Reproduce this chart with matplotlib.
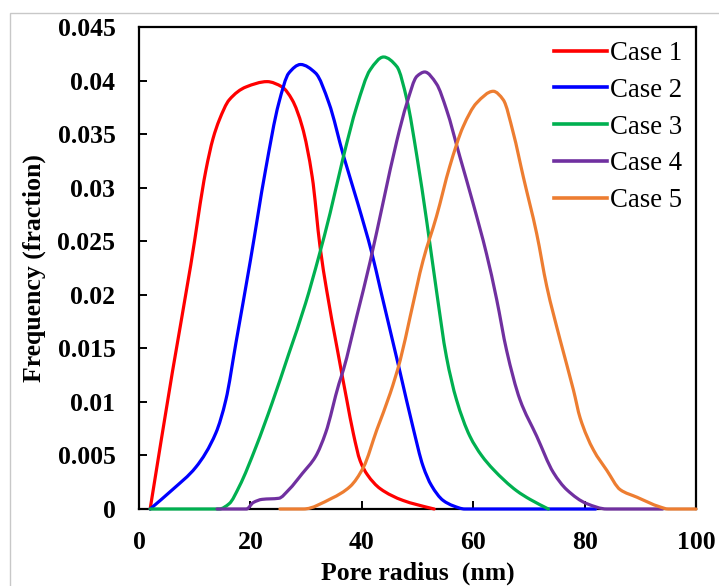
import matplotlib
matplotlib.use("Agg")
import matplotlib.pyplot as plt
import numpy as np
from matplotlib.patches import Rectangle, PathPatch
from matplotlib.path import Path
from matplotlib.lines import Line2D

# ---- data ----
case1_x = [2.0, 6.0, 9.3, 12.0, 13.3, 14.4, 16.2, 19.2, 23.0, 25.7, 27.5, 29.3, 31.1, 32.5, 33.7, 35.5, 37.3, 38.5, 39.7, 41.0, 43.3, 47.4, 52.2, 53.0]
case1_y = [0.0, 0.0128, 0.0228, 0.0316, 0.0346, 0.0363, 0.0382, 0.0394, 0.0399, 0.0394, 0.0382, 0.0357, 0.0310, 0.0245, 0.0204, 0.0152, 0.0102, 0.0070, 0.0045, 0.0032, 0.0019, 0.0008, 0.0001, 0.0]

case2_x = [2.0, 6.0, 10.2, 13.8, 15.6, 17.4, 20.0, 22.7, 25.1, 26.9, 29.0, 31.7, 34.1, 36.7, 39.3, 41.8, 43.3, 46.9, 49.2, 51.0, 52.5, 54.6, 56.4, 58.5, 82.0]
case2_y = [0.0, 0.0018, 0.0039, 0.0071, 0.0102, 0.0155, 0.0232, 0.0316, 0.0379, 0.0407, 0.0415, 0.0407, 0.0379, 0.0330, 0.0285, 0.0239, 0.0206, 0.0127, 0.0076, 0.0040, 0.0022, 0.0008, 0.0003, 0.0, 0.0]

case3_x = [2.0, 14.4, 16.2, 18.0, 21.0, 23.9, 26.9, 29.9, 32.3, 34.3, 36.7, 39.1, 41.5, 43.9, 46.3, 48.1, 49.9, 51.7, 53.4, 55.2, 57.0, 59.4, 61.5, 63.6, 67.8, 70.2, 73.5]
case3_y = [0.0, 0.0, 0.0005, 0.0021, 0.0058, 0.0099, 0.0145, 0.0192, 0.0236, 0.0276, 0.0329, 0.0376, 0.0410, 0.0422, 0.0413, 0.0382, 0.0329, 0.0267, 0.0204, 0.0142, 0.0102, 0.0068, 0.0050, 0.0037, 0.0017, 0.0009, 0.0]

case4_x = [14.0, 19.3, 20.5, 22.1, 25.1, 26.9, 29.3, 31.7, 33.5, 35.9, 36.7, 39.1, 41.5, 43.9, 46.3, 48.1, 49.9, 51.3, 53.4, 55.2, 57.6, 60.0, 62.4, 64.2, 66.0, 68.4, 71.4, 74.4, 76.8, 80.4, 84.0, 94.0]
case4_y = [0.0, 0.0, 0.0006, 0.0009, 0.0010, 0.0018, 0.0033, 0.0049, 0.0071, 0.0117, 0.0130, 0.0180, 0.0231, 0.0288, 0.0344, 0.0379, 0.0404, 0.0408, 0.0397, 0.0373, 0.0329, 0.0285, 0.0238, 0.0196, 0.0148, 0.0102, 0.0068, 0.0034, 0.0018, 0.0005, 0.0, 0.0]

case5_x = [25.3, 29.5, 34.6, 37.9, 40.3, 42.7, 45.1, 46.9, 48.7, 51.0, 53.4, 55.8, 58.2, 60.6, 63.6, 65.4, 67.2, 69.0, 71.4, 73.2, 75.6, 78.0, 79.2, 81.6, 84.0, 86.4, 89.4, 93.5, 95.0, 100.0]
case5_y = [0.0, 0.0, 0.0010, 0.0021, 0.0039, 0.0074, 0.0108, 0.0139, 0.0180, 0.0232, 0.0273, 0.0320, 0.0357, 0.0379, 0.0390, 0.0382, 0.0351, 0.0310, 0.0257, 0.0208, 0.0158, 0.0111, 0.0085, 0.0055, 0.0036, 0.0018, 0.0011, 0.0002, 0.0, 0.0]

labels = ["Case 1", "Case 2", "Case 3", "Case 4", "Case 5"]
colors = ["#FF0000", "#0000FF", "#00B050", "#7030A0", "#ED7D31"]
xticks = [0, 20, 40, 60, 80, 100]
xtick_labels = ["0", "20", "40", "60", "80", "100"]
yticks = [0, 0.005, 0.01, 0.015, 0.02, 0.025, 0.03, 0.035, 0.04, 0.045]
ytick_labels = ["0", "0.005", "0.01", "0.015", "0.02", "0.025", "0.03", "0.035", "0.04", "0.045"]


def smooth_path(xs, ys):
    """Smoothed (monotone cubic Bezier) path through the data points, like a 'smoothed line'."""
    x = np.asarray(xs, float)
    y = np.asarray(ys, float)
    n = len(x)
    h = np.diff(x)
    d = np.diff(y) / h
    m = np.zeros(n)
    for i in range(1, n - 1):
        if d[i - 1] * d[i] > 0:
            w1 = 2 * h[i] + h[i - 1]
            w2 = h[i] + 2 * h[i - 1]
            m[i] = (w1 + w2) / (w1 / d[i - 1] + w2 / d[i])
    m[0] = d[0]
    m[-1] = d[-1]
    verts = [(x[0], y[0])]
    codes = [Path.MOVETO]
    for i in range(n - 1):
        verts += [(x[i] + h[i] / 3, y[i] + m[i] * h[i] / 3),
                  (x[i + 1] - h[i] / 3, y[i + 1] - m[i + 1] * h[i] / 3),
                  (x[i + 1], y[i + 1])]
        codes += [Path.CURVE4] * 3
    return Path(verts, codes)


plt.rcParams['font.family'] = ['Liberation Serif', 'DejaVu Serif']

fig = plt.figure(figsize=(7.19, 5.86), dpi=100)
fig.patches.append(Rectangle((10/719, -0.1), 1.2, (586-13)/586 + 0.1, transform=fig.transFigure,
                             fill=False, edgecolor="#c8c8c8", linewidth=1.0))
ax = fig.add_axes([139/719, 77/586, 557/719, 482/586])

series = [(case1_x, case1_y), (case2_x, case2_y), (case3_x, case3_y), (case4_x, case4_y), (case5_x, case5_y)]
handles = []
for (xs, ys), lab, col in zip(series, labels, colors):
    patch = PathPatch(smooth_path(xs, ys), facecolor='none', edgecolor=col, lw=2.3,
                      joinstyle='round', capstyle='round', transform=ax.transData,
                      clip_on=False, zorder=3)
    ax.add_patch(patch)
    handles.append(Line2D([], [], color=col, lw=2.6, label=lab))

ax.set_xlim(0, 100)
ax.set_ylim(0, 0.045)
ax.set_xticks(xticks)
ax.set_xticklabels(xtick_labels)
ax.set_yticks(yticks)
ax.set_yticklabels(ytick_labels)
for sp in ax.spines.values():
    sp.set_linewidth(1.6)
ax.tick_params(direction='in', length=6, width=1.4, labelsize=18.5)
ax.tick_params(axis='y', pad=17)
ax.tick_params(axis='x', pad=16)
for t in ax.get_xticklabels() + ax.get_yticklabels():
    t.set_fontweight('bold')

ax.set_xlabel("Pore radius  (nm)", fontsize=18.5, fontweight='bold', labelpad=5)
ax.set_ylabel("Frequency (fraction)", fontsize=18.5, fontweight='bold', labelpad=8)

leg = ax.legend(handles=handles, loc='upper right', frameon=False, fontsize=19.3, handlelength=2.0,
                handletextpad=0.1, labelspacing=0.44, borderaxespad=0.22, borderpad=0.3)

fig.savefig("out.png", dpi=100)
